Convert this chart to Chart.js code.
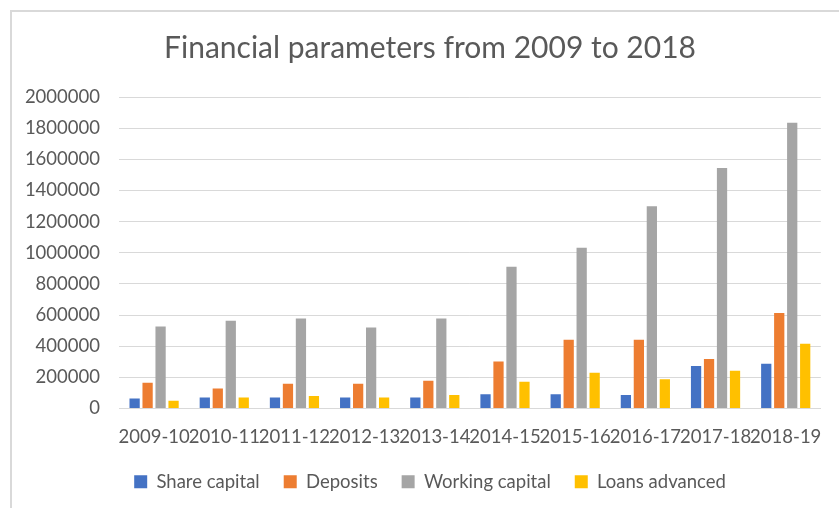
<!DOCTYPE html>
<html>
<head>
<meta charset="utf-8">
<script src="https://cdn.jsdelivr.net/npm/chart.js@4.4.1/dist/chart.umd.min.js"></script>
<style>
  html, body { margin: 0; padding: 0; background: #fff; }
  #wrap { position: relative; width: 839px; height: 508px; }
</style>
</head>
<body>
<div id="wrap"><canvas id="finChart" width="839" height="508"></canvas></div>
<script>
const years = ['2009-10', '2010-11', '2011-12', '2012-13', '2013-14', '2014-15', '2015-16', '2016-17', '2017-18', '2018-19'];
const shareCapital = [65000, 71000, 71000, 71000, 71000, 92000, 92000, 86000, 273000, 288000];
const deposits = [166000, 129000, 159000, 159000, 178000, 301000, 441000, 441000, 318000, 613000];
const workingCapital = [527000, 563000, 578000, 520000, 578000, 910000, 1032000, 1299000, 1544000, 1834000];
const loansAdvanced = [50000, 71000, 80000, 71000, 86000, 172000, 230000, 187000, 243000, 415000];

const textColor = '#595959';
const fontFamily = 'Lato, "Open Sans", sans-serif';

// light grey frame round the chart, like the Excel chart area
const framePlugin = {
    id: 'frame',
    beforeDraw(chart) {
        const c = chart.ctx;
        c.save();
        c.strokeStyle = '#d9d9d9';
        c.lineWidth = 2;
        c.strokeRect(11, 11, 900, 600);
        c.restore();
    }
};

// title and legend sit centred a little right of the canvas centre
const centrePlugin = {
    id: 'centre',
    afterLayout(chart) {
        [chart.titleBlock, chart.legend].forEach(box => {
            if (!box) return;
            box.left += 17;
            box.right += 17;
        });
    }
};

const ctx = document.getElementById('finChart').getContext('2d');

const finChart = new Chart(ctx, {
    type: 'bar',
    data: {
        labels: years,
        datasets: [
            { label: 'Share capital', data: shareCapital, backgroundColor: '#4472C4' },
            { label: 'Deposits', data: deposits, backgroundColor: '#ED7D31' },
            { label: 'Working capital', data: workingCapital, backgroundColor: '#A5A5A5' },
            { label: 'Loans advanced', data: loansAdvanced, backgroundColor: '#FFC000' }
        ]
    },
    options: {
        responsive: false,
        animation: false,
        categoryPercentage: 0.74,
        barPercentage: 0.79,
        layout: { padding: { left: 0, right: 13, top: 0, bottom: 7 } },
        plugins: {
            title: {
                display: true,
                text: 'Financial parameters from 2009 to 2018',
                color: textColor,
                font: { family: fontFamily, size: 30, weight: 'normal' },
                padding: { top: 30, bottom: 31 }
            },
            legend: {
                position: 'bottom',
                labels: {
                    color: textColor,
                    font: { family: fontFamily, size: 18.5 },
                    boxWidth: 13,
                    boxHeight: 13,
                    padding: 24
                }
            },
            tooltip: { enabled: false }
        },
        scales: {
            x: {
                grid: { display: false, drawTicks: false },
                border: { color: '#d9d9d9' },
                ticks: {
                    color: textColor,
                    font: { family: fontFamily, size: 18.5 },
                    autoSkip: false,
                    maxRotation: 0,
                    padding: 17
                },
                afterFit(scale) { scale.height = 40; }
            },
            y: {
                min: 0,
                max: 2000000,
                grid: { color: '#d9d9d9', drawTicks: false },
                border: { display: false },
                ticks: {
                    stepSize: 200000,
                    color: textColor,
                    font: { family: fontFamily, size: 18.5 },
                    padding: 19,
                    callback: v => String(v)
                },
                afterFit(scale) { scale.width = 119; }
            }
        }
    },
    plugins: [framePlugin, centrePlugin]
});
</script>
</body>
</html>
